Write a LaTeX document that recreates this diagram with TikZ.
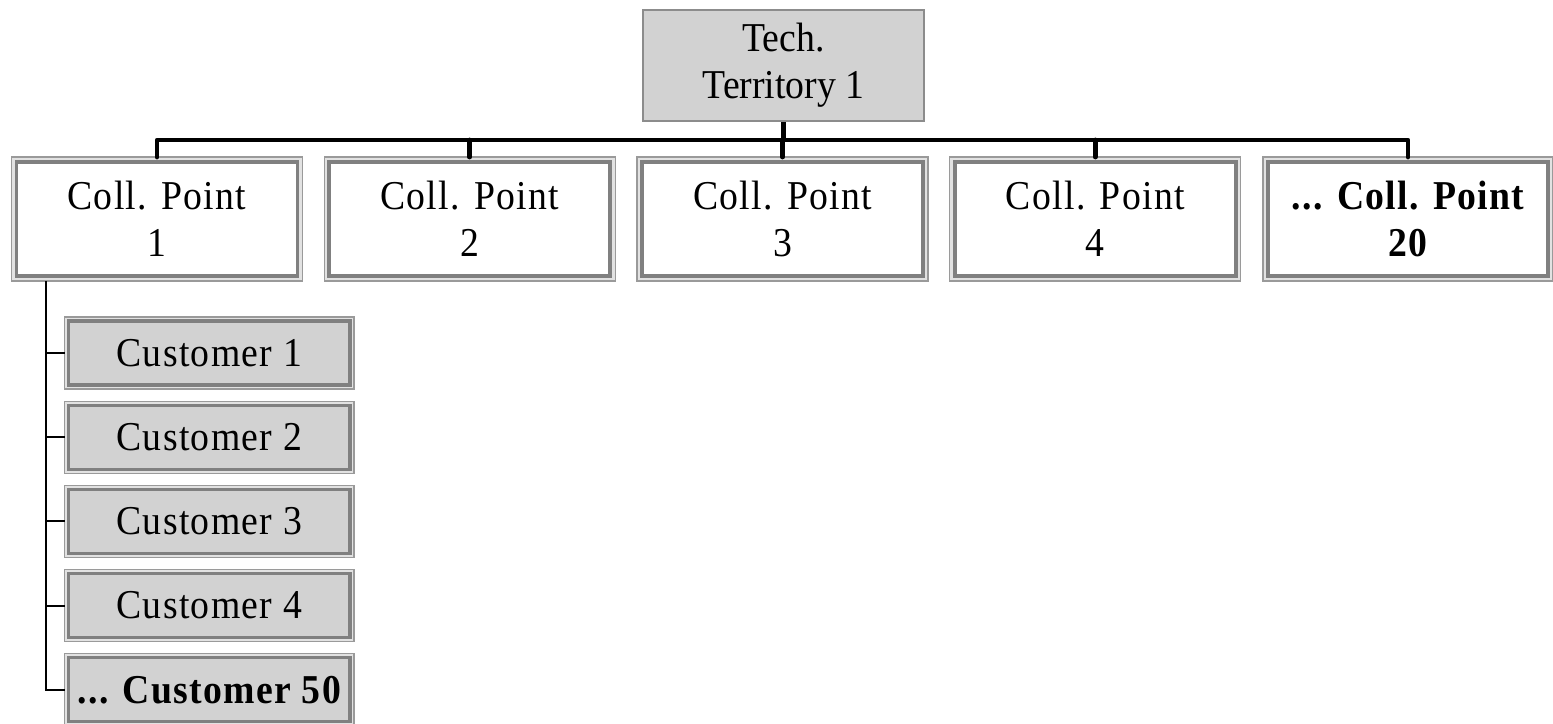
\documentclass[tikz,border=0pt]{standalone}
\usepackage{fontspec}
\setmainfont{Liberation Serif}[FakeStretch=0.92]
\newfontfamily\spaced{Liberation Serif}[FakeStretch=0.92,LetterSpace=3.2]
\usetikzlibrary{backgrounds}
\definecolor{boxfill}{HTML}{D2D2D2}
\definecolor{thickgray}{HTML}{808080}
\definecolor{outergray}{HTML}{9A9A9A}
\definecolor{gapgray}{HTML}{E2E2E2}
\definecolor{topline}{HTML}{8C8C8C}
\begin{document}
\begin{tikzpicture}[x=1pt,y=-1pt,
  font=\fontsize{41}{47}\selectfont,
  topbox/.style={draw=topline, fill=boxfill, line width=1.3pt, minimum width=281pt, minimum height=111pt, inner sep=0pt, align=center},
  collbox/.style={draw=thickgray, fill=white, line width=3.8pt, minimum width=281pt, minimum height=114pt, inner sep=0pt, outer sep=5pt, align=center, font=\fontsize{41}{47}\spaced},
  custbox/.style={draw=thickgray, fill=boxfill, line width=3.3pt, minimum width=281.5pt, minimum height=64pt, inner sep=0pt, outer sep=4pt, align=center, font=\fontsize{41}{47}\spaced},
  frame/.style={draw=outergray, fill=gapgray, line width=1.2pt},
  bus/.style={draw=black, line width=4.8pt, line join=round, line cap=round},
  trunkline/.style={draw=black, line width=2pt}
]
\useasboundingbox (0,0) rectangle (1553,723);
\node[topbox] (top) at (783.5,65.5) {Tech.\\Territory 1};
\node[collbox] (c1) at (157,219) {Coll. Point\\1};
\node[collbox] (c2) at (469.75,219) {Coll. Point\\2};
\node[collbox] (c3) at (782.5,219) {Coll. Point\\3};
\node[collbox] (c4) at (1095.25,219) {Coll. Point\\4};
\node[collbox, minimum width=280pt] (c5) at (1408,219) {\bfseries ... Coll. Point\\\bfseries 20};
\node[custbox] (u1) at (209.25,353) {Customer 1};
\node[custbox] (u2) at (209.25,437.2) {Customer 2};
\node[custbox] (u3) at (209.25,521.4) {Customer 3};
\node[custbox] (u4) at (209.25,605.6) {Customer 4};
\node[custbox] (u5) at (209.25,689.8) {\bfseries ... Customer 50};
\coordinate (busy) at (0,140);
\coordinate (trunk) at (46,0);
\begin{pgfonlayer}{background}
  \foreach \n in {c1,c2,c3,c4,c5,u1,u2,u3,u4,u5}
    \draw[frame] (\n.north west) rectangle (\n.south east);
  \draw[bus] (c1.north) -- (c1.north |- busy) -- (c5.north |- busy) -- (c5.north);
  \draw[bus] (top.south) -- (top.south |- busy);
  \foreach \n in {c2,c3,c4}
    \draw[bus] (\n.north |- busy) -- (\n.north);
  \draw[trunkline] (c1.south -| trunk) -- (u5.west -| trunk) -- (u5.west);
  \foreach \n in {u1,u2,u3,u4}
    \draw[trunkline] (\n.west -| trunk) -- (\n.west);
\end{pgfonlayer}
\end{tikzpicture}
\end{document}
